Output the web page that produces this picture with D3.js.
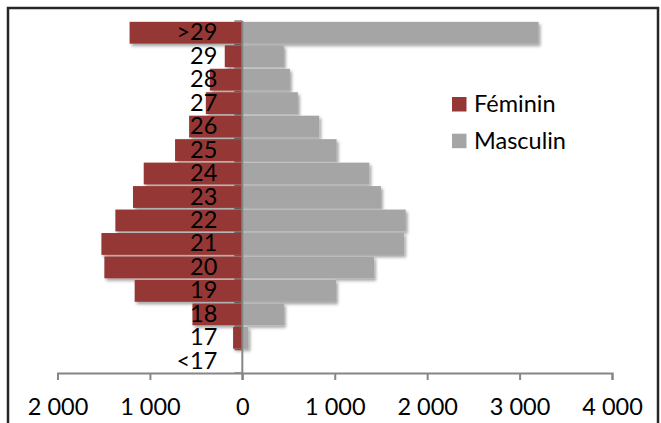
<!DOCTYPE html>
<html>
<head>
<meta charset="utf-8">
<script src="https://cdn.jsdelivr.net/npm/d3@7"></script>
<style>
  body { margin: 0; background: #fff; }
  text { font-family: "Lato", "Liberation Sans", sans-serif; }
</style>
</head>
<body>
<div id="chart"></div>
<script>
// Data (bottom to top)
var ageGroups = ["<17", "17", "18", "19", "20", "21", "22", "23", "24", "25", "26", "27", "28", "29", ">29"];
var feminin = [0, 100, 540, 1165, 1493, 1525, 1374, 1183, 1067, 728, 576, 395, 352, 190, 1220];
var masculin = [0, 65, 450, 1013, 1425, 1750, 1768, 1500, 1374, 1020, 832, 601, 515, 450, 3205];
var xTicks = [-2000, -1000, 0, 1000, 2000, 3000, 4000];
var seriesNames = ["Féminin", "Masculin"];
var seriesColors = ["#953735", "#a5a5a5"];

var svgWidth = 661;
var svgHeight = 423;

var svg = d3.select("#chart")
  .append("svg")
  .attr("width", svgWidth)
  .attr("height", svgHeight);

// shadow under bars
var defs = svg.append("defs");
defs.append("filter")
  .attr("id", "shadow")
  .attr("x", "-10%").attr("y", "-30%")
  .attr("width", "130%").attr("height", "180%")
  .append("feDropShadow")
  .attr("dx", 2).attr("dy", 2.5)
  .attr("stdDeviation", 1.5)
  .attr("flood-color", "#000")
  .attr("flood-opacity", 0.35);

// Chart frame
svg.append("rect")
  .attr("x", 8)
  .attr("y", 8)
  .attr("width", 650)
  .attr("height", 440)
  .attr("fill", "none")
  .attr("stroke", "#262626")
  .attr("stroke-width", 2.5);

// Scales
var x = d3.scaleLinear()
  .domain([-2000, 4000])
  .range([57.5, 612]);

var y = d3.scaleBand()
  .domain(ageGroups.slice().reverse())
  .range([21, 373])
  .paddingInner(0.07)
  .paddingOuter(0.035);

var rows = ageGroups.map(function (g, i) {
  return { group: g, fem: feminin[i], mas: masculin[i] };
});

// small ticks between categories on the vertical axis
var step = y.step();
svg.append("g").selectAll("line")
  .data(d3.range(ageGroups.length + 1))
  .enter()
  .append("line")
  .attr("x1", x(0) - 8)
  .attr("x2", x(0))
  .attr("y1", d => 21 + d * (352 / ageGroups.length))
  .attr("y2", d => 21 + d * (352 / ageGroups.length))
  .attr("stroke", "#868686")
  .attr("stroke-width", 1.5);

// Bars
var bars = svg.append("g").attr("filter", "url(#shadow)");

bars.selectAll(".fem")
  .data(rows)
  .enter()
  .append("rect")
  .attr("class", "fem")
  .attr("x", d => x(-d.fem))
  .attr("y", d => y(d.group))
  .attr("width", d => x(0) - x(-d.fem))
  .attr("height", y.bandwidth())
  .attr("fill", seriesColors[0]);

bars.selectAll(".mas")
  .data(rows)
  .enter()
  .append("rect")
  .attr("class", "mas")
  .attr("x", x(0))
  .attr("y", d => y(d.group))
  .attr("width", d => x(d.mas) - x(0))
  .attr("height", y.bandwidth())
  .attr("fill", seriesColors[1]);

// X axis
var xAxis = d3.axisBottom(x)
  .tickValues(xTicks)
  .tickSize(7)
  .tickFormat(d => d3.format(",")(Math.abs(d)).replace(",", " "));

var gx = svg.append("g")
  .attr("transform", "translate(0,373)")
  .call(xAxis);

gx.select(".domain").attr("stroke", "#868686").attr("stroke-width", 2);
gx.selectAll(".tick line").attr("stroke", "#868686").attr("stroke-width", 2);
gx.selectAll(".tick text")
  .attr("y", 42)
  .attr("dy", 0)
  .attr("fill", "#000")
  .style("font-size", "23.5px")
  .style("font-family", "Lato, 'Liberation Sans', sans-serif");

// Y axis (category labels over the bars)
var yAxis = d3.axisLeft(y)
  .tickSize(0)
  .tickPadding(25);

var gy = svg.append("g")
  .attr("transform", `translate(${x(0)},0)`)
  .call(yAxis);

gy.select(".domain")
  .attr("d", "M0,21V380")
  .attr("stroke", "#868686")
  .attr("stroke-width", 2);
gy.selectAll(".tick text")
  .attr("fill", "#000")
  .style("font-size", "23.5px")
  .style("font-family", "Lato, 'Liberation Sans', sans-serif");

// Legend
var legend = svg.append("g")
  .attr("transform", "translate(452,97)");

var legendItems = legend.selectAll("g")
  .data(seriesNames)
  .enter()
  .append("g")
  .attr("transform", (d, i) => `translate(0,${i * 36.7})`);

legendItems.append("rect")
  .attr("width", 14.5)
  .attr("height", 14.5)
  .attr("fill", (d, i) => seriesColors[i]);

legendItems.append("text")
  .attr("x", 22)
  .attr("y", 14.8)
  .text(d => d)
  .style("font-size", "23.5px")
  .attr("fill", "#000");
</script>
</body>
</html>
